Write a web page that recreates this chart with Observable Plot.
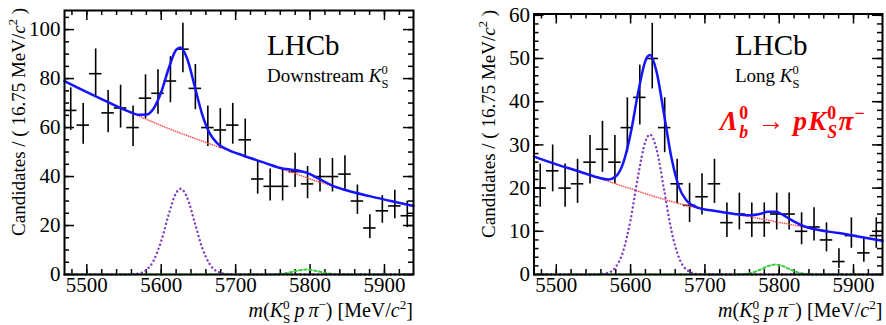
<!DOCTYPE html>
<html><head><meta charset="utf-8">
<script src="https://cdn.jsdelivr.net/npm/d3@7"></script>
<script src="https://cdn.jsdelivr.net/npm/@observablehq/plot@0.6"></script>
<style>
body{margin:0;background:#fff;}
#wrap{display:flex;width:886px;height:325px;background:#fff;}
#wrap svg, #wrap svg text, #wrap svg tspan{font-family:"Liberation Serif" !important;}
</style></head><body><div id="wrap"></div>
<script>
const SERIF = "Liberation Serif";

// Histogram binning
const binLow = 5470;
const binWidth = 16.75;

// Candidates per bin
const countsDownstream = [67,61,82,66,68,60,72,74,79,92,76,60,59,61,55,39,36,36,42,37,40,40,41,30,19,26,28,24];
const countsLong       = [20,24,20,21,26,29,26,34,41,50,34,21,16,18,21,12,14,12,12,14,14,10,11,8,3,9,5,9];

// Tick labels
const xMajorTicks = [5500,5600,5700,5800,5900];
const yMajorDownstream = [0,20,40,60,80,100];
const yMajorLong = [0,10,20,30,40,50,60];

// Fit curves
const fitMass = [5470,5500,5530,5555,5570,5580,5590,5600,5610,5620,5626,5635,5645,5655,5665,5675,5690,5710,5740,5760,5775,5785,5795,5805,5815,5830,5850,5880,5910,5939];
const bkgDownstream = [79,74.5,70.2,66.7,64.7,63.4,62.1,60.8,59.6,58.4,57.7,56.7,55.6,54.5,53.4,52.3,50.8,48.6,45.5,43.3,41.8,40.7,39.6,38.5,37.6,36.1,34.3,32,29.9,28];
const sigDownstream = [0,0,0,0.03,0.45,1.87,5.8,13.7,24.5,33.3,35,31.3,21.2,10.9,4.3,1.26,0.12,0,0,0,0,0,0,0,0,0,0,0,0,0];
const xibDownstream = [0,0,0,0,0,0,0,0,0,0,0,0,0,0,0,0,0,0,0.01,0.24,1.0,1.68,2.0,1.68,1.0,0.24,0.01,0,0,0];
const totDownstream = [79,74.5,70.2,66.7,65.2,65.3,67.9,74.5,84.1,91.7,92.7,88,76.8,65.4,57.7,53.6,50.9,48.6,45.5,43.5,42.8,42.4,41.6,40.2,38.6,36.3,34.3,32,29.9,28];

const bkgLong = [27.3,25.5,23.9,22.5,21.6,21.0,20.4,19.9,19.3,18.7,18.4,17.9,17.4,16.9,16.4,16.0,15.4,14.8,14.0,13.4,12.9,12.6,12.2,11.9,11.6,11.1,10.4,9.6,8.7,7.8];
const sigLong = [0,0,0,0.03,0.42,1.73,5.38,12.7,22.7,30.8,32.4,29.0,19.7,10.1,3.94,1.17,0.11,0,0,0,0,0,0,0,0,0,0,0,0,0];
const xibLong = [0,0,0,0,0,0,0,0,0,0,0,0,0,0,0,0,0,0,0.01,0.28,1.15,1.94,2.3,1.94,1.15,0.28,0.01,0,0,0];
const totLong = [27.3,25.5,23.9,22.5,22.0,22.7,25.8,32.6,42.0,49.5,50.8,46.9,37.1,27.0,20.3,17.2,15.5,14.8,14.0,13.7,14.05,14.5,14.5,13.8,12.75,11.4,10.4,9.6,8.7,7.8];

function panel(cfg) {
  const {counts, ymax, yMajor, yMinorStep, mL, mR, mT, mB, W, H, bkg, sig, xib, tot} = cfg;
  const innerW = W - mL - mR, innerH = H - mT - mB;
  const xMax = binLow + binWidth * counts.length;
  const xMinor = d3.range(5480, xMax, 20);
  const yMinor = d3.range(0, ymax, yMinorStep);
  const bins = counts.map((n, i) => {
    const lo = binLow + i * binWidth;
    return {x: lo + binWidth / 2, x1: lo, x2: lo + binWidth, n,
      lo: n * Math.pow(1 - 1 / (9 * n) - 1 / (3 * Math.sqrt(n)), 3),
      hi: n + Math.sqrt(n + 0.75) + 1};
  });
  const curve = vals => fitMass.map((m, i) => ({m, v: vals[i]}));
  const fmt = d3.format("d");
  return Plot.plot({
    width: W, height: H, marginLeft: mL, marginRight: mR, marginTop: mT, marginBottom: mB,
    style: {fontFamily: SERIF, fontSize: "20px", background: "white", color: "black", overflow: "visible"},
    x: {domain: [binLow, xMax]},
    y: {domain: [0, ymax]},
    marks: [
      Plot.axisX(xMajorTicks, {tickSize: 0, tickPadding: 3, tickFormat: fmt, label: null, fontSize: 21, fontFamily: SERIF}),
      Plot.axisY(yMajor, {tickSize: 0, tickPadding: 4, tickFormat: fmt, label: null, fontSize: 21, fontFamily: SERIF}),
      Plot.ruleX(xMajorTicks, {x: d => d, insetTop: innerH - 10, strokeWidth: 1.5}),
      Plot.ruleX(xMajorTicks, {x: d => d, insetBottom: innerH - 10, strokeWidth: 1.5}),
      Plot.ruleX(xMinor, {x: d => d, insetTop: innerH - 5, strokeWidth: 1.5}),
      Plot.ruleX(xMinor, {x: d => d, insetBottom: innerH - 5, strokeWidth: 1.5}),
      Plot.ruleY(yMajor, {y: d => d, insetRight: innerW - 10, strokeWidth: 1.5}),
      Plot.ruleY(yMajor, {y: d => d, insetLeft: innerW - 10, strokeWidth: 1.5}),
      Plot.ruleY(yMinor, {y: d => d, insetRight: innerW - 5, strokeWidth: 1.5}),
      Plot.ruleY(yMinor, {y: d => d, insetLeft: innerW - 5, strokeWidth: 1.5}),
      Plot.ruleX(bins, {x: "x", y1: "lo", y2: "hi", stroke: "black", strokeWidth: 1.6}),
      Plot.ruleY(bins, {y: "n", x1: "x1", x2: "x2", stroke: "black", strokeWidth: 1.6}),
      Plot.line(curve(bkg), {x: "m", y: "v", curve: "monotone-x", stroke: "#ff4d4d", strokeWidth: 1.6, strokeLinecap: "round", strokeDasharray: "0.1,2.2"}),
      Plot.line(curve(xib), {x: "m", y: "v", curve: "monotone-x", stroke: "#3ccc3c", strokeWidth: 2, strokeDasharray: "2.5,2.5"}),
      Plot.line(curve(sig), {x: "m", y: "v", curve: "monotone-x", stroke: "#7f3fbf", strokeWidth: 2.4, strokeLinecap: "round", strokeDasharray: "0.1,4.2"}),
      Plot.line(curve(tot), {x: "m", y: "v", curve: "monotone-x", stroke: "#1414ff", strokeWidth: 2.5}),
      Plot.frame({stroke: "black", strokeWidth: 2})
    ]
  });
}

function rich(svg, x, y, parts, o) {
  const fs = o.size;
  const t = svg.append("text").attr("x", x).attr("y", y)
    .attr("font-family", SERIF).attr("font-size", fs)
    .attr("fill", o.fill || "black").attr("text-anchor", o.anchor || "start");
  if (o.weight) t.attr("font-weight", o.weight);
  if (o.spacing) t.attr("letter-spacing", o.spacing);
  if (o.rotate) t.attr("transform", `rotate(${o.rotate} ${x} ${y})`);
  let dx = 0, dy = 0;
  const span = (txt, attrs) => {
    const s = t.append("tspan").text(txt);
    if (dx) s.attr("dx", dx);
    if (dy) s.attr("dy", dy);
    dx = 0; dy = 0;
    for (const k in attrs) s.attr(k, attrs[k]);
    return s;
  };
  const ss = 0.66 * fs;
  for (const p of parts) {
    if (typeof p === "string") { span(p, {}); continue; }
    span(p.t, {"font-style": p.i ? "italic" : "normal"});
    if (p.sup !== undefined && p.sub !== undefined) {
      dy = -0.4 * fs;
      const a = span(p.sup, {"font-size": ss, "font-style": "normal"});
      const wa = a.node().getComputedTextLength();
      dx = -wa; dy = 0.4 * fs + 0.3 * fs;
      const b = span(p.sub, {"font-size": ss, "font-style": p.subI ? "italic" : "normal"});
      const wb = b.node().getComputedTextLength();
      dx = Math.max(0, wa - wb); dy = -0.3 * fs;
    } else if (p.sup !== undefined) {
      dy = -0.4 * fs;
      span(p.sup, {"font-size": ss, "font-style": "normal"});
      dy = 0.4 * fs;
    }
  }
  return t;
}

const wrap = document.getElementById("wrap");
const W = 443, H = 325;

const left = panel({counts: countsDownstream, ymax: 107.8, yMajor: yMajorDownstream, yMinorStep: 5,
  mL: 64, mR: 30, mT: 10, mB: 51, W, H,
  bkg: bkgDownstream, sig: sigDownstream, xib: xibDownstream, tot: totDownstream});
const right = panel({counts: countsLong, ymax: 60.3, yMajor: yMajorLong, yMinorStep: 2,
  mL: 90.5, mR: 4, mT: 13.5, mB: 51, W, H,
  bkg: bkgLong, sig: sigLong, xib: xibLong, tot: totLong});
wrap.appendChild(left);
wrap.appendChild(right);

const yLabel = ["Candidates / ( 16.75 MeV/", {t: "c", i: true, sup: "2"}, " )"];
const xLabel = [{t: "m", i: true}, "(", {t: "K", i: true, sup: "0", sub: "S"}, "\u2009", {t: "p", i: true}, "\u2009", {t: "\u03c0", i: true, sup: "\u2212"}, ") [MeV/", {t: "c", i: true, sup: "2"}, "]"];

const ls = d3.select(left), rs = d3.select(right);
rich(ls, 25, 8, yLabel, {size: 19, anchor: "end", rotate: -90});
rich(ls, 413, 317, xLabel, {size: 20, anchor: "end"});
rich(ls, 267, 55, ["LHCb"], {size: 29});
rich(ls, 267, 82, ["Downstream ", {t: "K", i: true, sup: "0", sub: "S"}], {size: 19});

rich(rs, 52, 10, yLabel, {size: 19, anchor: "end", rotate: -90});
rich(rs, 439.5, 317, xLabel, {size: 20, anchor: "end"});
rich(rs, 292, 55, ["LHCb"], {size: 29});
rich(rs, 292, 82, ["Long ", {t: "K", i: true, sup: "0", sub: "S"}], {size: 19});
rich(rs, 277, 130, [{t: "\u039b", i: true, sup: "0", sub: "b", subI: true}, " \u2192 ", {t: "p", i: true}, {t: "K", i: true, sup: "0", sub: "S", subI: true}, {t: "\u03c0", i: true, sup: "\u2212"}], {size: 27, weight: "bold", fill: "#ff0000", spacing: 1.2});
</script></body></html>
